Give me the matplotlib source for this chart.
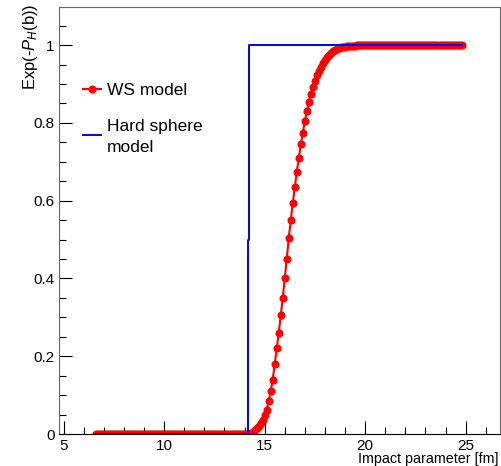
import numpy as np
import matplotlib
matplotlib.use("Agg")
import matplotlib.pyplot as plt
from matplotlib.ticker import MultipleLocator
from matplotlib.lines import Line2D

plt.rcParams["font.family"] = ["Liberation Sans", "DejaVu Sans"]
plt.rcParams["mathtext.fontset"] = "custom"
plt.rcParams["mathtext.rm"] = "Liberation Sans"
plt.rcParams["mathtext.it"] = "Liberation Sans:italic"

# WS model: impact parameter grid (fm) and Exp(-P_H(b))
ws_b = np.round(np.arange(6.6, 24.85, 0.1), 1)
ws_rise = [0.001, 0.003, 0.006, 0.010, 0.015, 0.021, 0.028, 0.036, 0.048, 0.062,
           0.085, 0.110, 0.140, 0.180, 0.220, 0.260, 0.305, 0.350, 0.400, 0.450,
           0.505, 0.550, 0.595, 0.635, 0.675, 0.710, 0.745, 0.775, 0.805, 0.830,
           0.855, 0.875, 0.893, 0.908, 0.922, 0.934, 0.945, 0.954, 0.962, 0.969,
           0.975, 0.980, 0.984, 0.987, 0.990, 0.992, 0.994, 0.995, 0.996, 0.997,
           0.998, 0.998, 0.999, 0.999]   # b = 14.2 ... 19.5
n_low = int(np.sum(ws_b < 14.15))
ws_p = [0.0] * n_low + ws_rise
ws_p = ws_p + [1.0] * (len(ws_b) - len(ws_p))

# Hard sphere model
hs_b = [6.6, 14.18, 14.18, 14.22, 14.22, 24.8]
hs_p = [0.0, 0.0, 0.5, 0.5, 1.0, 1.0]

W, H = 501, 466
fig = plt.figure(figsize=(W / 100, H / 100), dpi=100)
ax = fig.add_axes([59 / W, 1 - 434 / H, 441 / W, 427 / H])

ax.plot(ws_b, ws_p, color="red", lw=1.5, marker="o", ms=4.8, mec="red", mfc="red", zorder=2)
ax.plot(hs_b, hs_p, color="blue", lw=1.4, zorder=3)

ax.set_xlim(4.766, 26.71)
ax.set_ylim(0, 1.098)
ax.xaxis.set_major_locator(MultipleLocator(5))
ax.xaxis.set_minor_locator(MultipleLocator(1))
ax.yaxis.set_minor_locator(MultipleLocator(0.05))
ax.set_yticks([0, 0.2, 0.4, 0.6, 0.8, 1.0])
ax.set_yticklabels(["0", "0.2", "0.4", "0.6", "0.8", "1"])
ax.tick_params(which="both", direction="in", top=False, right=False, width=0.8,
               labelsize=11, colors="black")
ax.tick_params(which="major", length=9.4)
ax.tick_params(which="minor", length=4.7)
ax.tick_params(axis="x", pad=3.6)
ax.tick_params(axis="y", pad=3)
for s in ["left", "top", "right"]:
    ax.spines[s].set_color("#666666")
ax.spines["bottom"].set_color("black")

# legend, drawn by hand in figure pixels (ROOT TLegend look)
def fy(py):
    return 1 - py / H

fig.add_artist(Line2D([83 / W, 101 / W], [fy(89), fy(89)], color="red", lw=1.5))
fig.add_artist(Line2D([92 / W], [fy(89)], color="red", marker="o", ms=4.8, lw=0))
fig.text(107 / W, fy(95), "WS model", fontsize=12.5, va="baseline", ha="left")
fig.add_artist(Line2D([83 / W, 101 / W], [fy(135), fy(135)], color="blue", lw=1.4))
fig.text(107 / W, fy(131), "Hard sphere", fontsize=12.5, va="baseline", ha="left")
fig.text(107 / W, fy(152), "model", fontsize=12.5, va="baseline", ha="left")

fig.text(30 / W, fy(3), r"Exp(-$\mathit{P}_{\mathit{H}}$(b))", rotation=90,
         ha="center", va="top", fontsize=12)
fig.text(499 / W, fy(463.5), "Impact parameter [fm]", ha="right", va="baseline",
         fontsize=10.3)

fig.savefig("out.png", dpi=100)
